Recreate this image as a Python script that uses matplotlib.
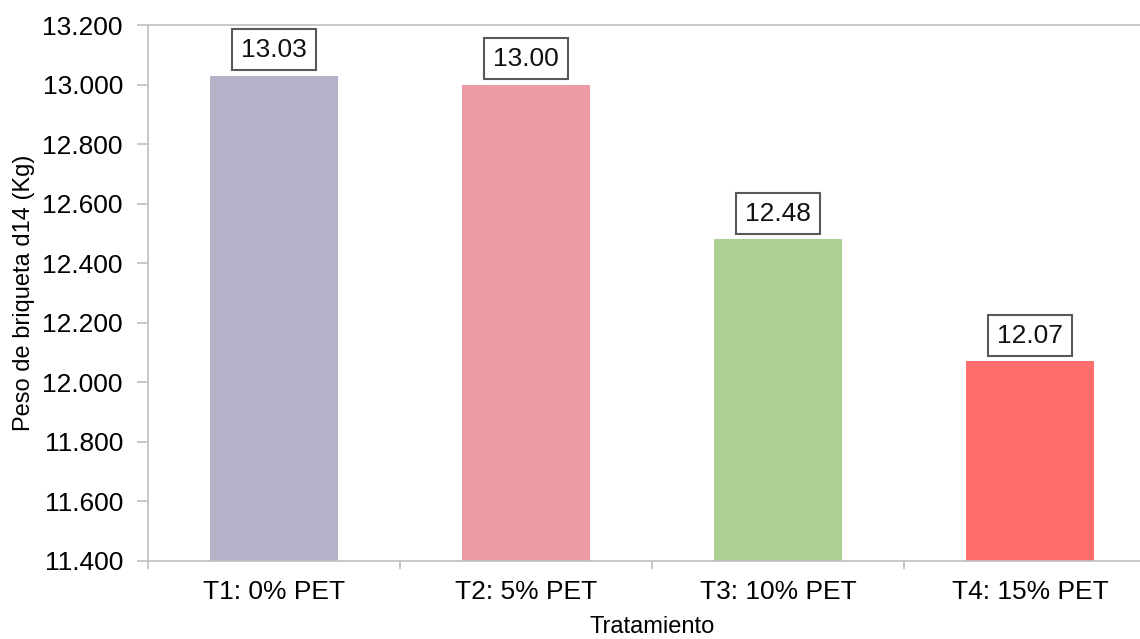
import matplotlib.pyplot as plt
from matplotlib.ticker import FixedLocator, FormatStrFormatter
import numpy as np

# ------------------------------ data ------------------------------
tratamientos = ['T1: 0% PET', 'T2: 5% PET', 'T3: 10% PET', 'T4: 15% PET']
peso_d14 = [13.03, 13.00, 12.48, 12.07]
colores = ['#b6b2c9', '#ec9aa3', '#afd095', '#ff6d6d']

plt.rcParams['font.family'] = ['Liberation Sans', 'DejaVu Sans']

fig = plt.figure(figsize=(11.4, 6.39), dpi=100)
ax = fig.add_axes([148 / 1140, 1 - 561 / 639, (1156 - 148) / 1140, (561 - 25) / 639])

x = np.arange(len(tratamientos))
barras = ax.bar(x, peso_d14, width=0.505, color=colores, zorder=2)

# value boxes over each bar
for xi, v in zip(x, peso_d14):
    ax.annotate(f'{v:.2f}', (xi, v), xytext=(0, 10), textcoords='offset points',
                ha='center', va='bottom', fontsize=19, color='#111111',
                bbox=dict(boxstyle='square,pad=0.33', fc='white', ec='#595959', lw=1.5))

ax.set_ylim(11.4, 13.2)
ax.set_xlim(-0.5, 3.5)
ax.yaxis.set_major_locator(FixedLocator(np.arange(11.4, 13.21, 0.2)))
ax.yaxis.set_major_formatter(FormatStrFormatter('%.3f'))

ax.set_xticks(x)
ax.set_xticklabels(tratamientos)
ax.xaxis.set_minor_locator(FixedLocator(np.arange(-0.5, 4, 1)))
ax.tick_params(axis='x', which='major', length=0, pad=14, labelsize=19)
ax.tick_params(axis='x', which='minor', length=6, width=1.2, color='#bfbfbf')
ax.tick_params(axis='y', length=8, width=1.2, color='#bfbfbf', pad=10, labelsize=19)

for side in ['left', 'bottom', 'top']:
    ax.spines[side].set_color('#bfbfbf')
    ax.spines[side].set_linewidth(1.2)
ax.spines['right'].set_visible(False)

ax.set_ylabel('Peso de briqueta d14 (Kg)', fontsize=17, labelpad=5)
ax.set_xlabel('Tratamiento', fontsize=17, labelpad=8)

fig.savefig('out.png', dpi=100)
